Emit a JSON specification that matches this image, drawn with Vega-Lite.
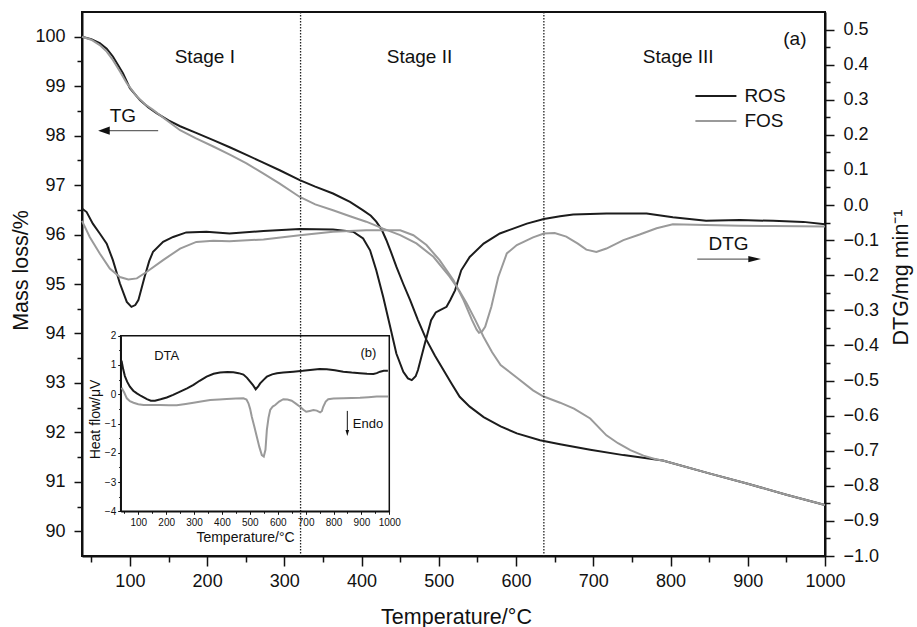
{
  "$schema": "https://vega.github.io/schema/vega-lite/v6.json",
  "width": 743,
  "height": 544,
  "autosize": {"type": "none"},
  "padding": {"left": 82, "top": 12, "right": 92, "bottom": 71},
  "background": "white",
  "config": {
    "font": "Liberation Sans",
    "view": {"stroke": "#111111", "strokeWidth": 2},
    "axis": {"grid": false, "domainColor": "#111111", "domainWidth": 2, "tickColor": "#111111", "tickWidth": 1.5, "labelColor": "#111111", "titleColor": "#111111", "titleFontWeight": "normal", "labelOverlap": false, "labelFlush": false, "labelFont": "Liberation Sans", "titleFont": "Liberation Sans"},
    "text": {"font": "Liberation Sans", "color": "#111111"}
  },
  "datasets": {
    "tg": [
      {"T":38,"sample":"ROS","value":100.0},{"T":50,"sample":"ROS","value":99.95},{"T":61,"sample":"ROS","value":99.87},{"T":70,"sample":"ROS","value":99.76},{"T":78,"sample":"ROS","value":99.6},{"T":85,"sample":"ROS","value":99.42},{"T":91,"sample":"ROS","value":99.26},{"T":100,"sample":"ROS","value":98.96},{"T":113,"sample":"ROS","value":98.72},{"T":124,"sample":"ROS","value":98.57},{"T":135,"sample":"ROS","value":98.45},{"T":150,"sample":"ROS","value":98.31},{"T":165,"sample":"ROS","value":98.19},{"T":185,"sample":"ROS","value":98.06},{"T":208,"sample":"ROS","value":97.91},{"T":230,"sample":"ROS","value":97.76},{"T":251,"sample":"ROS","value":97.61},{"T":272,"sample":"ROS","value":97.46},{"T":294,"sample":"ROS","value":97.3},{"T":320,"sample":"ROS","value":97.1},{"T":340,"sample":"ROS","value":96.97},{"T":363,"sample":"ROS","value":96.83},{"T":385,"sample":"ROS","value":96.66},{"T":402,"sample":"ROS","value":96.49},{"T":412,"sample":"ROS","value":96.38},{"T":419,"sample":"ROS","value":96.26},{"T":426,"sample":"ROS","value":96.1},{"T":432,"sample":"ROS","value":95.89},{"T":438,"sample":"ROS","value":95.65},{"T":445,"sample":"ROS","value":95.35},{"T":454,"sample":"ROS","value":95.0},{"T":463,"sample":"ROS","value":94.67},{"T":473,"sample":"ROS","value":94.27},{"T":484,"sample":"ROS","value":93.87},{"T":495,"sample":"ROS","value":93.55},{"T":506,"sample":"ROS","value":93.26},{"T":516,"sample":"ROS","value":93.0},{"T":527,"sample":"ROS","value":92.72},{"T":540,"sample":"ROS","value":92.52},{"T":558,"sample":"ROS","value":92.31},{"T":580,"sample":"ROS","value":92.12},{"T":601,"sample":"ROS","value":91.98},{"T":631,"sample":"ROS","value":91.84},{"T":657,"sample":"ROS","value":91.76},{"T":696,"sample":"ROS","value":91.65},{"T":739,"sample":"ROS","value":91.54},{"T":790,"sample":"ROS","value":91.43},{"T":850,"sample":"ROS","value":91.17},{"T":900,"sample":"ROS","value":90.96},{"T":950,"sample":"ROS","value":90.74},{"T":1000,"sample":"ROS","value":90.53},
      {"T":38,"sample":"FOS","value":100.0},{"T":50,"sample":"FOS","value":99.94},{"T":61,"sample":"FOS","value":99.83},{"T":70,"sample":"FOS","value":99.7},{"T":78,"sample":"FOS","value":99.53},{"T":87,"sample":"FOS","value":99.3},{"T":96,"sample":"FOS","value":99.06},{"T":109,"sample":"FOS","value":98.79},{"T":120,"sample":"FOS","value":98.63},{"T":130,"sample":"FOS","value":98.52},{"T":145,"sample":"FOS","value":98.34},{"T":165,"sample":"FOS","value":98.11},{"T":185,"sample":"FOS","value":97.95},{"T":208,"sample":"FOS","value":97.78},{"T":230,"sample":"FOS","value":97.61},{"T":251,"sample":"FOS","value":97.44},{"T":272,"sample":"FOS","value":97.24},{"T":294,"sample":"FOS","value":97.03},{"T":320,"sample":"FOS","value":96.76},{"T":340,"sample":"FOS","value":96.61},{"T":363,"sample":"FOS","value":96.49},{"T":385,"sample":"FOS","value":96.37},{"T":406,"sample":"FOS","value":96.26},{"T":428,"sample":"FOS","value":96.12},{"T":450,"sample":"FOS","value":95.99},{"T":471,"sample":"FOS","value":95.82},{"T":493,"sample":"FOS","value":95.55},{"T":514,"sample":"FOS","value":95.15},{"T":526,"sample":"FOS","value":94.88},{"T":536,"sample":"FOS","value":94.61},{"T":547,"sample":"FOS","value":94.28},{"T":558,"sample":"FOS","value":93.93},{"T":569,"sample":"FOS","value":93.62},{"T":580,"sample":"FOS","value":93.36},{"T":600,"sample":"FOS","value":93.12},{"T":622,"sample":"FOS","value":92.85},{"T":635,"sample":"FOS","value":92.73},{"T":657,"sample":"FOS","value":92.6},{"T":675,"sample":"FOS","value":92.48},{"T":696,"sample":"FOS","value":92.28},{"T":717,"sample":"FOS","value":91.94},{"T":732,"sample":"FOS","value":91.78},{"T":748,"sample":"FOS","value":91.64},{"T":765,"sample":"FOS","value":91.53},{"T":782,"sample":"FOS","value":91.45},{"T":790,"sample":"FOS","value":91.43},{"T":850,"sample":"FOS","value":91.17},{"T":900,"sample":"FOS","value":90.96},{"T":950,"sample":"FOS","value":90.74},{"T":1000,"sample":"FOS","value":90.53}
    ],
    "dtg": [
      {"T":38,"sample":"ROS","value":-0.01},{"T":44,"sample":"ROS","value":-0.02},{"T":52,"sample":"ROS","value":-0.053},{"T":61,"sample":"ROS","value":-0.081},{"T":70,"sample":"ROS","value":-0.11},{"T":78,"sample":"ROS","value":-0.157},{"T":87,"sample":"ROS","value":-0.223},{"T":96,"sample":"ROS","value":-0.276},{"T":102,"sample":"ROS","value":-0.29},{"T":107,"sample":"ROS","value":-0.285},{"T":111,"sample":"ROS","value":-0.271},{"T":119,"sample":"ROS","value":-0.205},{"T":125,"sample":"ROS","value":-0.16},{"T":130,"sample":"ROS","value":-0.133},{"T":143,"sample":"ROS","value":-0.105},{"T":156,"sample":"ROS","value":-0.091},{"T":173,"sample":"ROS","value":-0.078},{"T":199,"sample":"ROS","value":-0.076},{"T":229,"sample":"ROS","value":-0.081},{"T":273,"sample":"ROS","value":-0.074},{"T":320,"sample":"ROS","value":-0.068},{"T":363,"sample":"ROS","value":-0.07},{"T":389,"sample":"ROS","value":-0.076},{"T":402,"sample":"ROS","value":-0.095},{"T":411,"sample":"ROS","value":-0.129},{"T":419,"sample":"ROS","value":-0.186},{"T":428,"sample":"ROS","value":-0.262},{"T":437,"sample":"ROS","value":-0.347},{"T":445,"sample":"ROS","value":-0.423},{"T":454,"sample":"ROS","value":-0.475},{"T":460,"sample":"ROS","value":-0.494},{"T":465,"sample":"ROS","value":-0.499},{"T":470,"sample":"ROS","value":-0.488},{"T":473,"sample":"ROS","value":-0.47},{"T":482,"sample":"ROS","value":-0.394},{"T":490,"sample":"ROS","value":-0.328},{"T":496,"sample":"ROS","value":-0.306},{"T":501,"sample":"ROS","value":-0.3},{"T":510,"sample":"ROS","value":-0.29},{"T":515,"sample":"ROS","value":-0.27},{"T":521,"sample":"ROS","value":-0.243},{"T":529,"sample":"ROS","value":-0.186},{"T":540,"sample":"ROS","value":-0.148},{"T":558,"sample":"ROS","value":-0.11},{"T":579,"sample":"ROS","value":-0.081},{"T":614,"sample":"ROS","value":-0.053},{"T":636,"sample":"ROS","value":-0.04},{"T":657,"sample":"ROS","value":-0.032},{"T":674,"sample":"ROS","value":-0.027},{"T":717,"sample":"ROS","value":-0.024},{"T":769,"sample":"ROS","value":-0.024},{"T":803,"sample":"ROS","value":-0.035},{"T":846,"sample":"ROS","value":-0.045},{"T":890,"sample":"ROS","value":-0.043},{"T":933,"sample":"ROS","value":-0.045},{"T":972,"sample":"ROS","value":-0.048},{"T":1000,"sample":"ROS","value":-0.055},
      {"T":38,"sample":"FOS","value":-0.045},{"T":48,"sample":"FOS","value":-0.091},{"T":61,"sample":"FOS","value":-0.138},{"T":74,"sample":"FOS","value":-0.181},{"T":87,"sample":"FOS","value":-0.205},{"T":98,"sample":"FOS","value":-0.212},{"T":109,"sample":"FOS","value":-0.209},{"T":122,"sample":"FOS","value":-0.19},{"T":143,"sample":"FOS","value":-0.157},{"T":165,"sample":"FOS","value":-0.124},{"T":186,"sample":"FOS","value":-0.105},{"T":208,"sample":"FOS","value":-0.102},{"T":229,"sample":"FOS","value":-0.103},{"T":273,"sample":"FOS","value":-0.098},{"T":320,"sample":"FOS","value":-0.086},{"T":363,"sample":"FOS","value":-0.076},{"T":406,"sample":"FOS","value":-0.072},{"T":450,"sample":"FOS","value":-0.072},{"T":467,"sample":"FOS","value":-0.086},{"T":484,"sample":"FOS","value":-0.114},{"T":501,"sample":"FOS","value":-0.157},{"T":519,"sample":"FOS","value":-0.214},{"T":532,"sample":"FOS","value":-0.271},{"T":543,"sample":"FOS","value":-0.328},{"T":549,"sample":"FOS","value":-0.355},{"T":552,"sample":"FOS","value":-0.364},{"T":556,"sample":"FOS","value":-0.36},{"T":560,"sample":"FOS","value":-0.347},{"T":568,"sample":"FOS","value":-0.29},{"T":577,"sample":"FOS","value":-0.205},{"T":588,"sample":"FOS","value":-0.138},{"T":601,"sample":"FOS","value":-0.114},{"T":622,"sample":"FOS","value":-0.092},{"T":636,"sample":"FOS","value":-0.081},{"T":650,"sample":"FOS","value":-0.08},{"T":665,"sample":"FOS","value":-0.09},{"T":680,"sample":"FOS","value":-0.11},{"T":691,"sample":"FOS","value":-0.127},{"T":704,"sample":"FOS","value":-0.134},{"T":717,"sample":"FOS","value":-0.124},{"T":739,"sample":"FOS","value":-0.1},{"T":760,"sample":"FOS","value":-0.084},{"T":782,"sample":"FOS","value":-0.066},{"T":803,"sample":"FOS","value":-0.055},{"T":846,"sample":"FOS","value":-0.057},{"T":890,"sample":"FOS","value":-0.059},{"T":933,"sample":"FOS","value":-0.06},{"T":1000,"sample":"FOS","value":-0.061}
    ],
    "dta": [
      {"T":40,"sample":"ROS","value":1.15},{"T":46,"sample":"ROS","value":0.85},{"T":52,"sample":"ROS","value":0.62},{"T":60,"sample":"ROS","value":0.43},{"T":70,"sample":"ROS","value":0.26},{"T":82,"sample":"ROS","value":0.12},{"T":95,"sample":"ROS","value":0.03},{"T":110,"sample":"ROS","value":-0.06},{"T":131,"sample":"ROS","value":-0.17},{"T":145,"sample":"ROS","value":-0.22},{"T":160,"sample":"ROS","value":-0.22},{"T":180,"sample":"ROS","value":-0.17},{"T":202,"sample":"ROS","value":-0.11},{"T":225,"sample":"ROS","value":-0.02},{"T":250,"sample":"ROS","value":0.09},{"T":275,"sample":"ROS","value":0.2},{"T":298,"sample":"ROS","value":0.32},{"T":320,"sample":"ROS","value":0.46},{"T":345,"sample":"ROS","value":0.6},{"T":370,"sample":"ROS","value":0.7},{"T":393,"sample":"ROS","value":0.74},{"T":420,"sample":"ROS","value":0.76},{"T":441,"sample":"ROS","value":0.75},{"T":460,"sample":"ROS","value":0.72},{"T":477,"sample":"ROS","value":0.67},{"T":490,"sample":"ROS","value":0.56},{"T":501,"sample":"ROS","value":0.43},{"T":512,"sample":"ROS","value":0.3},{"T":521,"sample":"ROS","value":0.17},{"T":530,"sample":"ROS","value":0.27},{"T":537,"sample":"ROS","value":0.37},{"T":550,"sample":"ROS","value":0.5},{"T":561,"sample":"ROS","value":0.6},{"T":580,"sample":"ROS","value":0.68},{"T":597,"sample":"ROS","value":0.72},{"T":620,"sample":"ROS","value":0.74},{"T":656,"sample":"ROS","value":0.77},{"T":690,"sample":"ROS","value":0.8},{"T":716,"sample":"ROS","value":0.83},{"T":750,"sample":"ROS","value":0.86},{"T":776,"sample":"ROS","value":0.85},{"T":805,"sample":"ROS","value":0.82},{"T":835,"sample":"ROS","value":0.77},{"T":865,"sample":"ROS","value":0.74},{"T":895,"sample":"ROS","value":0.72},{"T":920,"sample":"ROS","value":0.7},{"T":943,"sample":"ROS","value":0.69},{"T":955,"sample":"ROS","value":0.72},{"T":967,"sample":"ROS","value":0.77},{"T":980,"sample":"ROS","value":0.8},{"T":995,"sample":"ROS","value":0.8},
      {"T":40,"sample":"FOS","value":0.22},{"T":50,"sample":"FOS","value":0.05},{"T":59,"sample":"FOS","value":-0.14},{"T":70,"sample":"FOS","value":-0.24},{"T":83,"sample":"FOS","value":-0.29},{"T":100,"sample":"FOS","value":-0.34},{"T":119,"sample":"FOS","value":-0.37},{"T":150,"sample":"FOS","value":-0.37},{"T":178,"sample":"FOS","value":-0.37},{"T":210,"sample":"FOS","value":-0.38},{"T":238,"sample":"FOS","value":-0.38},{"T":270,"sample":"FOS","value":-0.33},{"T":298,"sample":"FOS","value":-0.29},{"T":330,"sample":"FOS","value":-0.24},{"T":358,"sample":"FOS","value":-0.2},{"T":390,"sample":"FOS","value":-0.18},{"T":417,"sample":"FOS","value":-0.16},{"T":450,"sample":"FOS","value":-0.15},{"T":477,"sample":"FOS","value":-0.14},{"T":488,"sample":"FOS","value":-0.18},{"T":495,"sample":"FOS","value":-0.31},{"T":501,"sample":"FOS","value":-0.5},{"T":507,"sample":"FOS","value":-0.77},{"T":516,"sample":"FOS","value":-1.1},{"T":525,"sample":"FOS","value":-1.45},{"T":534,"sample":"FOS","value":-1.8},{"T":543,"sample":"FOS","value":-2.08},{"T":550,"sample":"FOS","value":-2.13},{"T":556,"sample":"FOS","value":-1.9},{"T":561,"sample":"FOS","value":-1.22},{"T":567,"sample":"FOS","value":-0.8},{"T":573,"sample":"FOS","value":-0.54},{"T":582,"sample":"FOS","value":-0.42},{"T":591,"sample":"FOS","value":-0.37},{"T":605,"sample":"FOS","value":-0.25},{"T":620,"sample":"FOS","value":-0.17},{"T":635,"sample":"FOS","value":-0.18},{"T":650,"sample":"FOS","value":-0.22},{"T":665,"sample":"FOS","value":-0.32},{"T":680,"sample":"FOS","value":-0.43},{"T":692,"sample":"FOS","value":-0.53},{"T":702,"sample":"FOS","value":-0.6},{"T":715,"sample":"FOS","value":-0.57},{"T":728,"sample":"FOS","value":-0.54},{"T":740,"sample":"FOS","value":-0.56},{"T":752,"sample":"FOS","value":-0.62},{"T":758,"sample":"FOS","value":-0.58},{"T":763,"sample":"FOS","value":-0.43},{"T":772,"sample":"FOS","value":-0.25},{"T":781,"sample":"FOS","value":-0.17},{"T":800,"sample":"FOS","value":-0.15},{"T":835,"sample":"FOS","value":-0.14},{"T":865,"sample":"FOS","value":-0.13},{"T":895,"sample":"FOS","value":-0.12},{"T":925,"sample":"FOS","value":-0.1},{"T":955,"sample":"FOS","value":-0.08},{"T":996,"sample":"FOS","value":-0.08}
    ],
    "stages": [{"T": 321}, {"T": 636}],
    "tgNotes": [
      {"T": 197, "value": 99.59, "label": "Stage I"},
      {"T": 475, "value": 99.59, "label": "Stage II"},
      {"T": 810, "value": 99.59, "label": "Stage III"},
      {"T": 961, "value": 99.95, "label": "(a)"},
      {"T": 91, "value": 98.4, "label": "TG"}
    ],
    "tgArrow": [{"T": 64, "T2": 136.6, "value": 98.1}],
    "tgHead": [{"T": 58.9, "value": 98.1}],
    "dtgNotes": [{"T": 875, "value": -0.111, "label": "DTG"}],
    "dtgArrow": [{"T": 834.6, "T2": 912, "value": -0.154}],
    "dtgHead": [{"T": 917.1, "value": -0.154}],
    "insetNotes": [
      {"T": 202, "value": 1.31, "label": "DTA"},
      {"T": 925, "value": 1.42, "label": "(b)"}
    ],
    "endoNote": [{"T": 869, "value": -1.02, "label": "Endo"}],
    "endoArrow": [{"T": 849.5, "value": -0.57, "value2": -1.3}],
    "endoHead": [{"T": 849.5, "value": -1.43}],
    "insetFrame": [{"T": 37, "T2": 1000, "value": -4, "value2": 2}]
  },
  "layer": [
    {
      "layer": [
        {
          "layer": [
            {
              "data": {"name": "tg"},
              "mark": {"type": "line", "strokeWidth": 2},
              "encoding": {
                "x": {"field": "T", "type": "quantitative", "scale": {"domain": [38, 1000], "nice": false, "zero": false},
                  "axis": {"orient": "bottom", "values": [100,200,300,400,500,600,700,800,900,1000], "format": "d",
                    "tickSize": 10, "labelFontSize": 18, "labelPadding": 6, "labelBaseline": "top",
                    "title": "Temperature/°C", "titleFontSize": 21.5, "titleX": 374, "titleY": 67, "titleBaseline": "alphabetic"}},
                "y": {"field": "value", "type": "quantitative", "scale": {"domain": [89.5, 100.5], "nice": false, "zero": false},
                  "axis": {"orient": "left", "values": [90,91,92,93,94,95,96,97,98,99,100], "format": "d",
                    "tickSize": 8, "labelFontSize": 18, "labelPadding": 9,
                    "title": "Mass loss/%", "titleFontSize": 21.5, "titleAngle": 270, "titleX": -55, "titleY": 258, "titleBaseline": "alphabetic"}},
                "color": {"field": "sample", "type": "nominal", "scale": {"domain": ["ROS", "FOS"], "range": ["#1c1c1c", "#9a9a9a"]},
                  "legend": {"orient": "none", "legendX": 624.4, "legendY": 74.5, "title": null, "symbolType": "M-3,0L3,0", "symbolSize": 187, "symbolStrokeWidth": 2, "labelFontSize": 19, "labelOffset": 19, "labelColor": "#111111", "labelFont": "Liberation Sans", "padding": 0, "rowPadding": 5}}
              }
            },
            {
              "data": {"name": "stages"},
              "mark": {"type": "rule", "strokeDash": [1.5, 1.5], "color": "#222222", "strokeWidth": 1.3},
              "encoding": {"x": {"field": "T", "type": "quantitative",
                "axis": {"orient": "bottom", "values": [50,150,250,350,450,550,650,750,850,950], "tickSize": 6, "labels": false, "domain": false, "title": null}}}
            },
            {
              "data": {"name": "tgNotes"},
              "mark": {"type": "text", "fontSize": 19, "align": "center", "baseline": "middle"},
              "encoding": {
                "x": {"field": "T", "type": "quantitative", "axis": null},
                "y": {"field": "value", "type": "quantitative",
                  "axis": {"orient": "left", "values": [90.5,91.5,92.5,93.5,94.5,95.5,96.5,97.5,98.5,99.5], "tickSize": 5, "labels": false, "domain": false, "title": null}},
                "text": {"field": "label"}
              }
            },
            {
              "data": {"name": "tgArrow"},
              "mark": {"type": "rule", "color": "#666666", "strokeWidth": 1.3},
              "encoding": {
                "x": {"field": "T", "type": "quantitative", "axis": null},
                "x2": {"field": "T2"},
                "y": {"field": "value", "type": "quantitative", "axis": null}
              }
            },
            {
              "data": {"name": "tgHead"},
              "mark": {"type": "point", "shape": "M0,0L2,-0.72L2,0.72Z", "size": 135, "filled": true, "color": "#111111", "opacity": 1, "strokeWidth": 0},
              "encoding": {
                "x": {"field": "T", "type": "quantitative", "axis": null},
                "y": {"field": "value", "type": "quantitative", "axis": null}
              }
            }
          ],
          "resolve": {"axis": {"x": "independent", "y": "independent"}}
        },
        {
          "layer": [
            {
              "data": {"name": "dtg"},
              "mark": {"type": "line", "strokeWidth": 2},
              "encoding": {
                "x": {"field": "T", "type": "quantitative", "axis": null},
                "y": {"field": "value", "type": "quantitative", "scale": {"domain": [-1.0, 0.55], "nice": false, "zero": false},
                  "axis": {"orient": "right", "values": [-1,-0.9,-0.8,-0.7,-0.6,-0.5,-0.4,-0.3,-0.2,-0.1,0,0.1,0.2,0.3,0.4,0.5], "format": ".1f",
                    "tickSize": 9, "labelFontSize": 18, "labelPadding": 9,
                    "title": "DTG/mg min⁻¹", "titleFontSize": 21.5, "titleAngle": 270, "titleX": 82, "titleY": 265, "titleBaseline": "alphabetic"}},
                "color": {"field": "sample", "type": "nominal", "scale": {"domain": ["ROS", "FOS"], "range": ["#1c1c1c", "#9a9a9a"]}}
              }
            },
            {
              "data": {"name": "dtgNotes"},
              "mark": {"type": "text", "fontSize": 19, "align": "center", "baseline": "middle"},
              "encoding": {
                "x": {"field": "T", "type": "quantitative", "axis": null},
                "y": {"field": "value", "type": "quantitative",
                  "axis": {"orient": "right", "values": [-0.95,-0.85,-0.75,-0.65,-0.55,-0.45,-0.35,-0.25,-0.15,-0.05,0.05,0.15,0.25,0.35,0.45], "tickSize": 5, "labels": false, "domain": false, "title": null}},
                "text": {"field": "label"}
              }
            },
            {
              "data": {"name": "dtgArrow"},
              "mark": {"type": "rule", "color": "#666666", "strokeWidth": 1.3},
              "encoding": {
                "x": {"field": "T", "type": "quantitative", "axis": null},
                "x2": {"field": "T2"},
                "y": {"field": "value", "type": "quantitative", "axis": null}
              }
            },
            {
              "data": {"name": "dtgHead"},
              "mark": {"type": "point", "shape": "M0,0L-2,-0.5L-2,0.5Z", "size": 160, "filled": true, "color": "#111111", "opacity": 1, "strokeWidth": 0},
              "encoding": {
                "x": {"field": "T", "type": "quantitative", "axis": null},
                "y": {"field": "value", "type": "quantitative", "axis": null}
              }
            }
          ],
          "resolve": {"axis": {"y": "independent"}}
        }
      ],
      "resolve": {"scale": {"y": "independent"}}
    },
    {
      "layer": [
        {
          "data": {"name": "insetFrame"},
          "mark": {"type": "rect", "filled": false, "stroke": "#111111", "strokeWidth": 1.5},
          "encoding": {
            "x": {"field": "T", "type": "quantitative", "scale": {"domain": [37, 1000], "range": [38.7, 307.3], "nice": false, "zero": false},
              "axis": {"orient": "bottom", "offset": -44.7, "values": [100,200,300,400,500,600,700,800,900,1000], "format": "d",
                "tickSize": 3, "labelFontSize": 10, "labelPadding": 3, "labelBaseline": "top", "domainWidth": 1.5, "tickWidth": 1,
                "title": "Temperature/°C", "titleFontSize": 14, "titleX": 163, "titleY": 30, "titleBaseline": "alphabetic"}},
            "x2": {"field": "T2"},
            "y": {"field": "value", "type": "quantitative", "scale": {"domain": [-4, 2], "range": [499.3, 323.7], "nice": false, "zero": false},
              "axis": {"orient": "left", "offset": -38.7, "values": [-4,-3,-2,-1,0,1,2], "format": "d",
                "tickSize": 3, "labelFontSize": 10, "labelPadding": 2, "domainWidth": 1.5, "tickWidth": 1,
                "title": "Heat flow/μV", "titleFontSize": 14, "titleAngle": 270, "titleX": -21.4, "titleY": 407, "titleBaseline": "alphabetic"}},
            "y2": {"field": "value2"}
          }
        },
        {
          "data": {"name": "dta"},
          "mark": {"type": "line", "strokeWidth": 2},
          "encoding": {
            "x": {"field": "T", "type": "quantitative",
              "axis": {"orient": "bottom", "offset": -44.7, "values": [50,150,250,350,450,550,650,750,850,950], "tickSize": 2, "tickWidth": 1, "labels": false, "domain": false, "title": null}},
            "y": {"field": "value", "type": "quantitative",
              "axis": {"orient": "left", "offset": -38.7, "values": [-3.5,-2.5,-1.5,-0.5,0.5,1.5], "tickSize": 2, "tickWidth": 1, "labels": false, "domain": false, "title": null}},
            "color": {"field": "sample", "type": "nominal", "scale": {"domain": ["ROS", "FOS"], "range": ["#1c1c1c", "#9a9a9a"]}}
          }
        },
        {
          "data": {"name": "insetNotes"},
          "mark": {"type": "text", "fontSize": 13, "align": "center", "baseline": "middle"},
          "encoding": {
            "x": {"field": "T", "type": "quantitative", "axis": null},
            "y": {"field": "value", "type": "quantitative", "axis": null},
            "text": {"field": "label"}
          }
        },
        {
          "data": {"name": "endoNote"},
          "mark": {"type": "text", "fontSize": 13, "align": "left", "baseline": "middle"},
          "encoding": {
            "x": {"field": "T", "type": "quantitative", "axis": null},
            "y": {"field": "value", "type": "quantitative", "axis": null},
            "text": {"field": "label"}
          }
        },
        {
          "data": {"name": "endoArrow"},
          "mark": {"type": "rule", "color": "#111111", "strokeWidth": 1},
          "encoding": {
            "x": {"field": "T", "type": "quantitative", "axis": null},
            "y": {"field": "value", "type": "quantitative", "axis": null},
            "y2": {"field": "value2"}
          }
        },
        {
          "data": {"name": "endoHead"},
          "mark": {"type": "point", "shape": "M0,0L-0.6,-2L0.6,-2Z", "size": 36, "filled": true, "color": "#111111", "opacity": 1, "strokeWidth": 0},
          "encoding": {
            "x": {"field": "T", "type": "quantitative", "axis": null},
            "y": {"field": "value", "type": "quantitative", "axis": null}
          }
        }
      ],
      "resolve": {"axis": {"x": "independent", "y": "independent"}}
    }
  ],
  "resolve": {"scale": {"x": "independent", "y": "independent"}}
}
